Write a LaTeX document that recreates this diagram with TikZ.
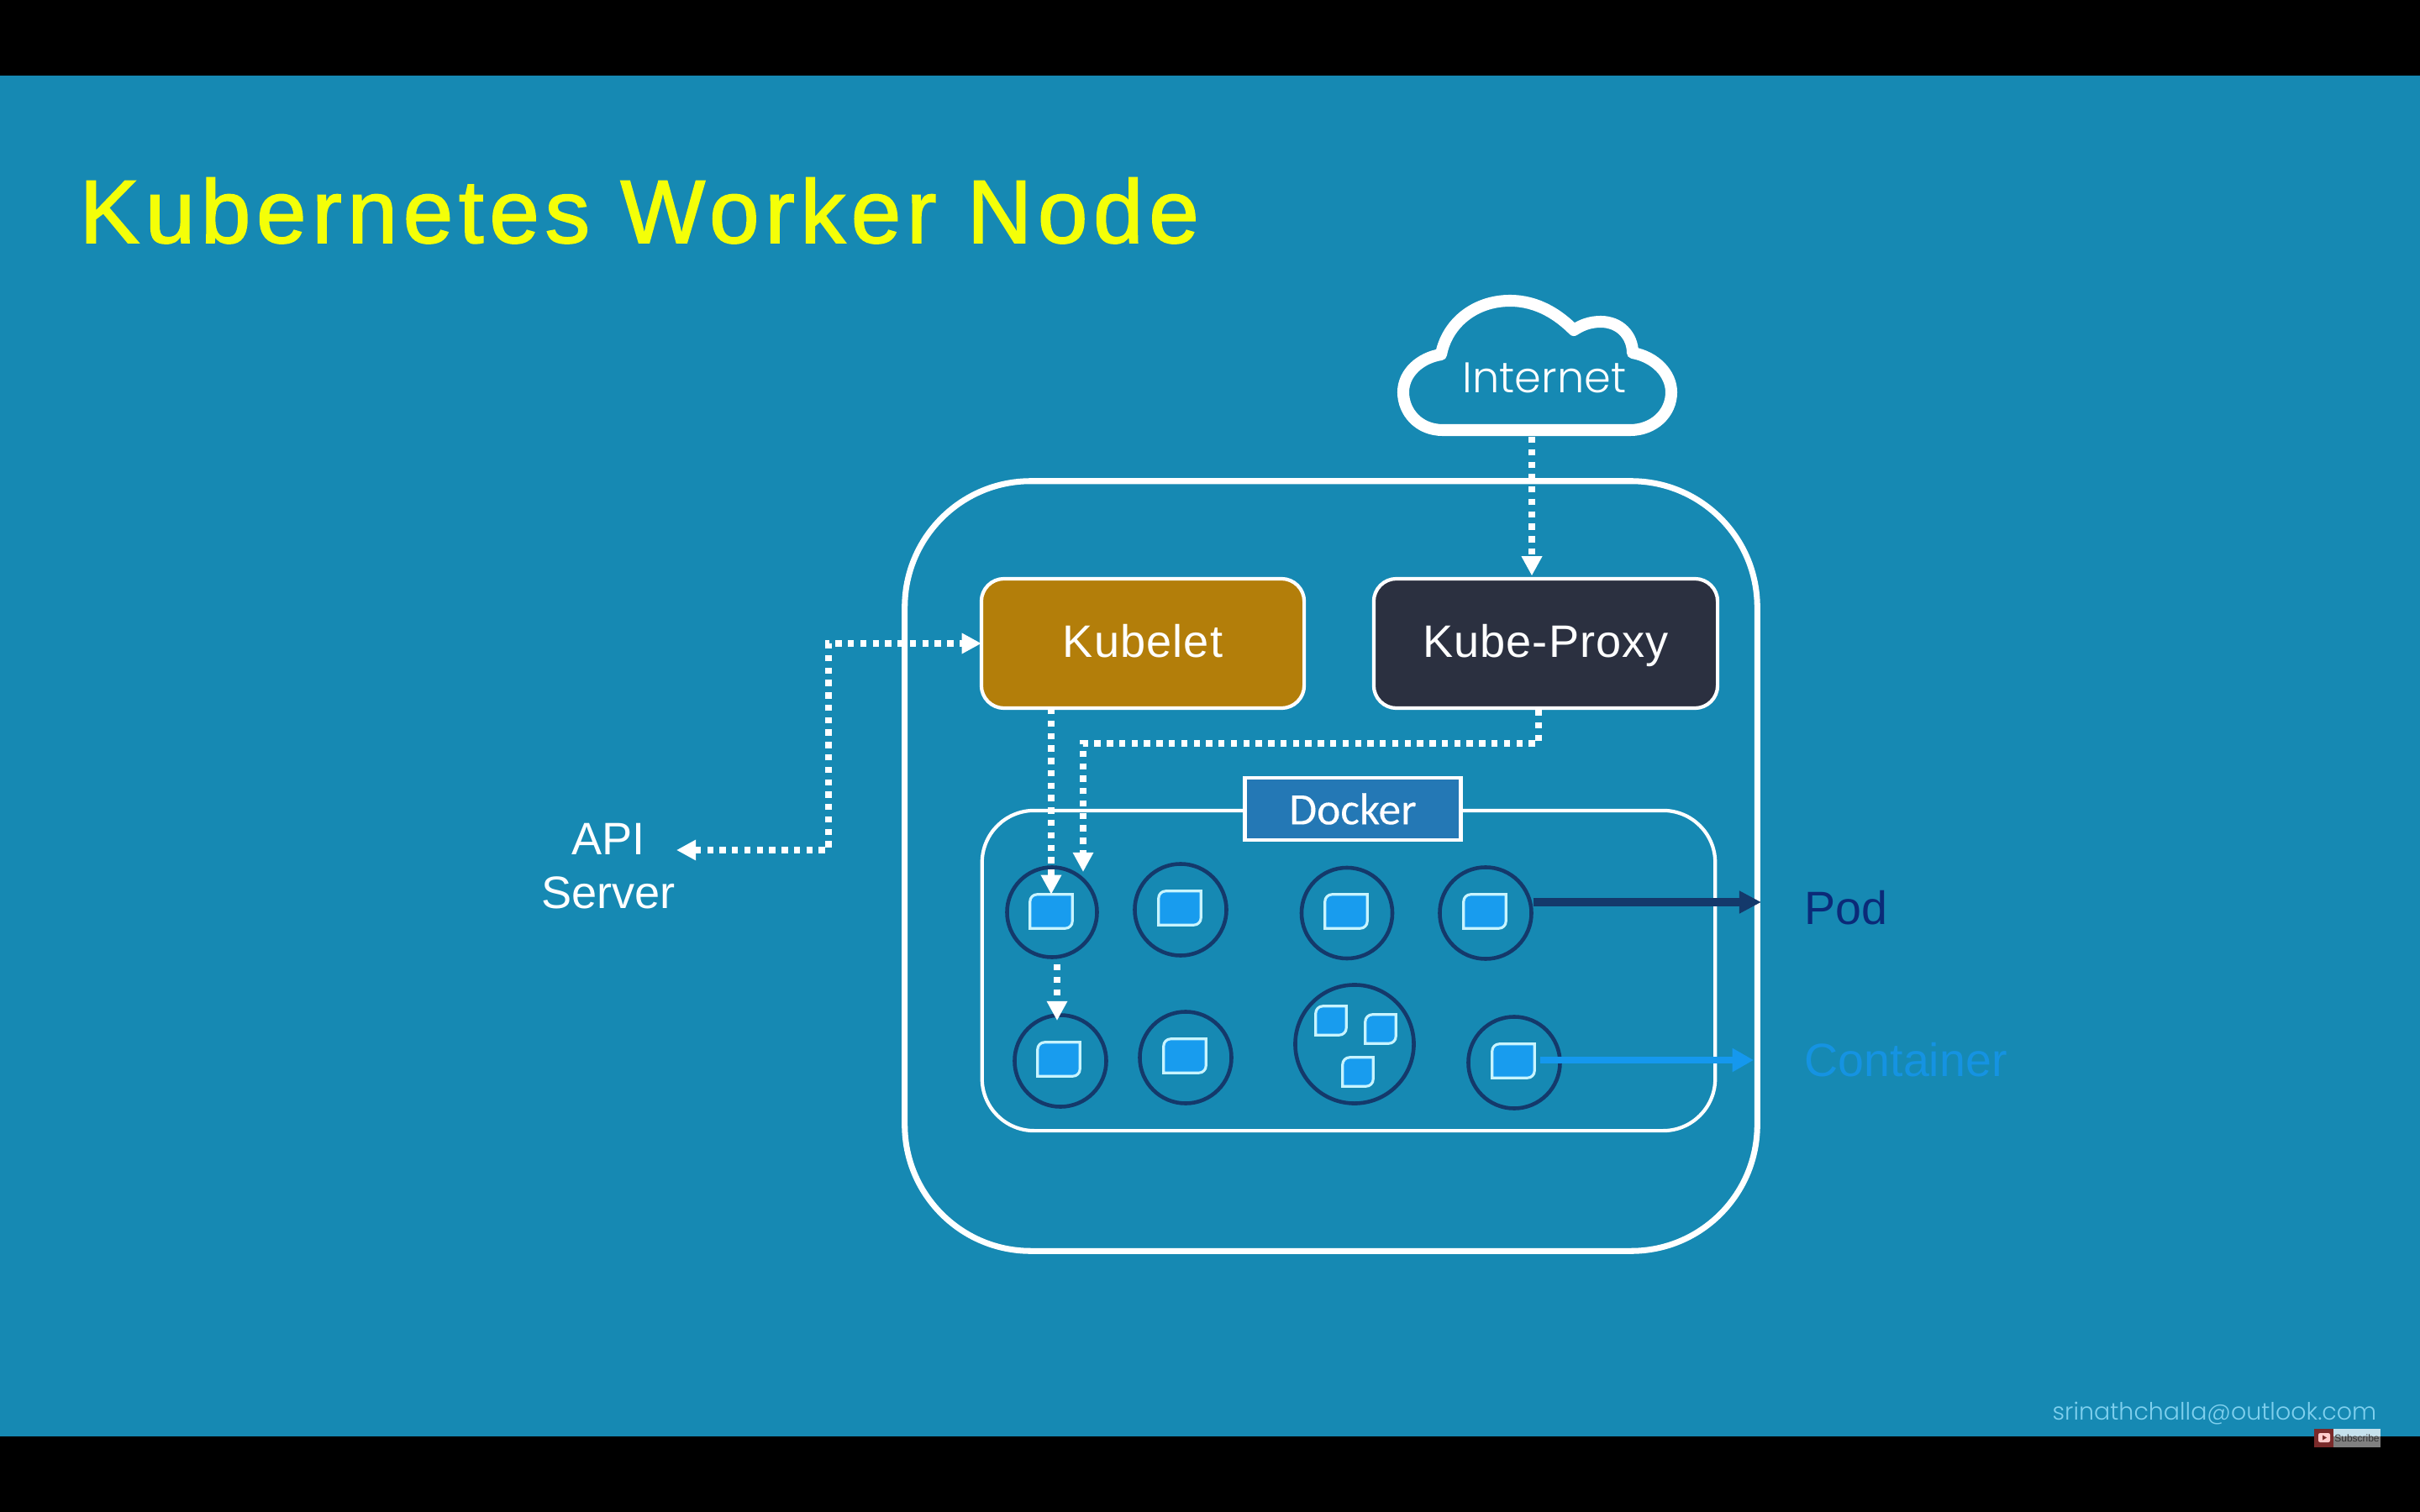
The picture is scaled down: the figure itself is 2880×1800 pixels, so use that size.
\documentclass[tikz,border=0pt]{standalone}
\usepackage{fontspec}
\setmainfont{Liberation Sans}
\newfontfamily\titlefont[LetterSpace=6.3,FakeBold=1.6]{Liberation Sans}
\newfontfamily\boxfont[LetterSpace=2]{Liberation Sans}
\newfontfamily\thinfont{Poppins Light}
\newfontfamily\dockerfont[FakeBold=0.15]{Carlito}
\usetikzlibrary{arrows.meta}
\definecolor{slidebg}{HTML}{1689B3}
\definecolor{titleyellow}{HTML}{F4FF08}
\definecolor{kubeletgold}{HTML}{B37E0A}
\definecolor{proxydark}{HTML}{2B3040}
\definecolor{dockerblue}{HTML}{2478B5}
\definecolor{podnavy}{HTML}{14396B}
\definecolor{podtext}{HTML}{0B2A78}
\definecolor{ctrblue}{HTML}{189CEE}
\definecolor{ctredge}{HTML}{C8F4FF}
\definecolor{ctrarrow}{HTML}{1598EE}
\definecolor{ctrtext}{HTML}{1593E2}
\definecolor{mailblue}{HTML}{7FD0EE}
\definecolor{badgered}{HTML}{7A2A2A}
\tikzset{
  compbox/.style={draw=white,line width=1.2pt,rounded corners=0.27cm,text=white,outer sep=0pt,
    minimum width=3.84cm,minimum height=1.54cm,text height=13pt,text depth=3.6pt,
    font=\boxfont\fontsize{15.4}{18}\selectfont},
  dotline/.style={white,line width=2pt,dash pattern=on 2.1pt off 2.1pt,
    -{Triangle[length=6.6pt,width=6.6pt]}},
  podring/.style={circle,draw=podnavy,line width=1.3pt,inner sep=0pt},
  ctrbox/.style={inner sep=0pt,minimum width=0.49cm,minimum height=0.39cm},
  ctrsmall/.style={ctrbox,minimum width=0.35cm,minimum height=0.33cm},
}
\begin{document}
\begin{tikzpicture}[x=0.01cm,y=-0.01cm]
    \useasboundingbox (0,0) rectangle (2880,1800);
    \fill[black] (0,0) rectangle (2880,1800);
    \fill[slidebg] (0,90) rectangle (2880,1710);
    \node[anchor=base west,inner sep=0pt,text=titleyellow,font=\titlefont\fontsize{30.4}{36}\selectfont] (title) at (94,289){Kubernetes Worker Node};

    \draw[white,line width=4pt,line join=round] (1717,512)
        .. controls (1688,512) and (1670,490) .. (1670,467)
        .. controls (1670,444) and (1690,426) .. (1715,422)
        .. controls (1722,385) and (1755,358) .. (1797,358)
        .. controls (1830,358) and (1855,375) .. (1873,393)
        .. controls (1882,387) and (1892,383) .. (1905,383)
        .. controls (1928,383) and (1943,400) .. (1943,420)
        .. controls (1970,425) and (1989,445) .. (1989,467)
        .. controls (1989,492) and (1968,512) .. (1940,512) -- cycle;
    \node[text=white,font=\thinfont\fontsize{14.5}{18}\selectfont] (internet) at (1838,450){Internet};
    \coordinate (cloudbot) at (1823,520);

    \node[draw=white,line width=2pt,rounded corners=1.5cm,minimum width=10.14cm,minimum height=9.16cm] (worker) at (1584,1031){};
    \node[draw=white,line width=1.2pt,rounded corners=0.62cm,minimum width=8.72cm,minimum height=3.81cm] (engine) at (1605,1155.5){};
    \node[draw=white,fill=dockerblue,line width=1.4pt,minimum width=2.56cm,minimum height=0.74cm,inner sep=0pt,
        text=white,font=\dockerfont\fontsize{15.2}{17}\selectfont] (docker) at (1610,963){Docker};

    \node[compbox,fill=kubeletgold] (kubelet) at (1360,766){Kubelet};
    \node[compbox,fill=proxydark,minimum width=4.09cm] (proxy) at (1839.5,766){Kube-Proxy};

    \node[podring,minimum size=1.07cm] (c1) at (1252,1086){};
    \node[podring,minimum size=1.09cm] (c2) at (1405,1083){};
    \node[podring,minimum size=1.08cm] (c3) at (1603,1087){};
    \node[podring,minimum size=1.09cm] (c4) at (1768,1087){};
    \node[podring,minimum size=1.09cm] (c5) at (1262,1263){};
    \node[podring,minimum size=1.09cm] (c6) at (1411,1259){};
    \node[podring,minimum size=1.41cm] (c7) at (1612,1243){};
    \node[podring,minimum size=1.09cm] (c8) at (1802,1265){};

    \node[ctrbox] (s1) at (1251,1085){};
    \node[ctrbox] (s2) at (1404,1081){};
    \node[ctrbox] (s3) at (1602,1085){};
    \node[ctrbox] (s4) at (1767,1085){};
    \node[ctrbox] (s5) at (1260,1261){};
    \node[ctrbox] (s6) at (1410,1257){};
    \node[ctrsmall] (s7a) at (1584,1215){};
    \node[ctrsmall] (s7b) at (1643,1225){};
    \node[ctrsmall] (s7c) at (1616,1276){};
    \node[ctrbox] (s8) at (1801,1263){};
    \foreach \cell in {s1,s2,s3,s4,s5,s6,s7a,s7b,s7c,s8}
        \draw[ctredge,fill=ctrblue,line width=0.9pt] (\cell.north)
            [rounded corners=2.4pt] -- (\cell.north west) [sharp corners] -- (\cell.south west)
            [rounded corners=2.4pt] -- (\cell.south east) [sharp corners] -- (\cell.north east) -- cycle;

    \node[align=center,text=white,font=\fontsize{15.4}{18.2}\selectfont] (api) at (724,1031){API\\Server};
    \node[anchor=base west,inner sep=0pt,text=podtext,font=\fontsize{15.8}{18}\selectfont] (pod) at (2147,1100){Pod};
    \node[anchor=base west,inner sep=0pt,text=ctrtext,font=\fontsize{15.8}{18}\selectfont] (container) at (2147,1281){Container};

    \coordinate (apiend) at (805,1012);
    \coordinate (feedend) at (1289,1038);
    \coordinate (hopstart) at (1258,1148);
    \coordinate (hopend) at (1258,1215);
    \coordinate (podend) at (2096,1074);
    \coordinate (ctrend) at (2087,1262);

    \draw[dotline,shorten >=1pt] (cloudbot) -- (cloudbot |- proxy.north);
    \draw[dotline,{Triangle[length=6.6pt,width=6.6pt]}-{Triangle[length=6.6pt,width=6.6pt]}] (apiend) -- ++(181,0) |- (kubelet.west);
    \draw[dotline] (s1 |- kubelet.south) -- (s1.north);
    \draw[dotline] (1831,845) -- (1831,885) -- (1289,885) -- (feedend);
    \draw[dotline] (hopstart) -- (hopend);

    \draw[podnavy,line width=2.6pt,-{Triangle[length=7.4pt,width=7.2pt]}] (podend -| c4.east) -- (podend);
    \draw[ctrarrow,line width=2.3pt,-{Triangle[length=7.2pt,width=7.6pt]}] (1833,1262) -- (ctrend);

    \node[anchor=base east,inner sep=0pt,text=mailblue,font=\thinfont\fontsize{8.1}{12}\selectfont] (mail) at (2829,1690){srinathchalla@outlook.com};

    \fill[badgered] (2754,1701) rectangle (2777,1723);
    \fill[white!75!slidebg] (2777,1701) rectangle (2833,1710);
    \fill[black!50] (2777,1710) rectangle (2833,1723);
    \fill[white!80!red,rounded corners=0.6pt] (2759,1706) rectangle (2773,1717);
    \fill[badgered] (2764,1708.5) -- (2769,1711.5) -- (2764,1714.5) -- cycle;
    \node[anchor=center,text=black!80,inner sep=0pt,font=\fontsize{3.4}{5}\selectfont] (sub) at (2805,1712){Subscribe};
\end{tikzpicture}
\end{document}
